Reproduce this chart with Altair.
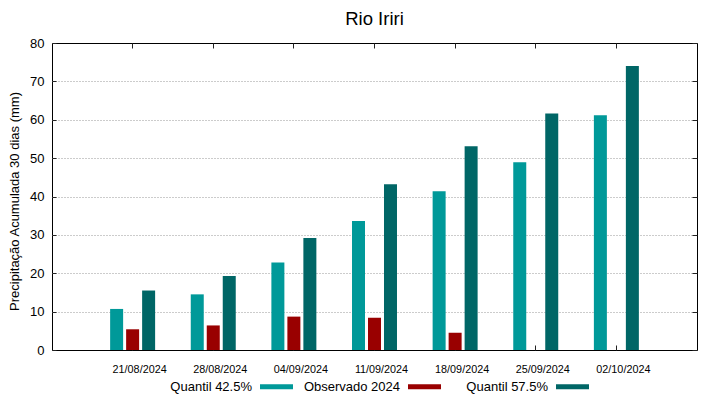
import altair as alt
import pandas as pd

dates = ["21/08/2024", "28/08/2024", "04/09/2024", "11/09/2024",
         "18/09/2024", "25/09/2024", "02/10/2024"]
q425 = [10.7, 14.5, 22.8, 33.6, 41.4, 48.9, 61.2]
obs = [5.4, 6.4, 8.7, 8.4, 4.5, None, None]
q575 = [15.5, 19.3, 29.2, 43.2, 53.1, 61.6, 74.0]
series = ["Quantil 42.5%", "Observado 2024", "Quantil 57.5%"]
colors = ["#009999", "#990000", "#006666"]
y_ticks = [0, 10, 20, 30, 40, 50, 60, 70, 80]

rows = []
for name, vals in zip(series, [q425, obs, q575]):
    for d, v in zip(dates, vals):
        if v is not None:
            rows.append({"data": d, "serie": name, "valor": v})
df = pd.DataFrame(rows)

W, H = 645, 307
FONT = "Liberation Sans"
TICK = "#222222"

x_scale = alt.Scale(paddingInner=0.442, paddingOuter=0.721)
xo_scale = alt.Scale(paddingInner=0.1875, paddingOuter=0)
y_scale = alt.Scale(domain=[0, 80], nice=False, zero=True)

base = alt.Chart(df)

bars = base.mark_bar().encode(
    x=alt.X("data:N", sort=dates, scale=x_scale,
            axis=alt.Axis(orient="bottom", title=None, labelAngle=0, ticks=False,
                          domain=False, labelFontSize=10.8, labelColor="#000",
                          labelPadding=13, labelOffset=7, grid=False)),
    xOffset=alt.XOffset("serie:N", sort=series, scale=xo_scale),
    y=alt.Y("valor:Q", scale=y_scale,
            axis=alt.Axis(orient="left", values=y_ticks,
                          title="Precipitação Acumulada 30 dias (mm)",
                          titleFontSize=13, titleFontWeight="normal", titleColor="#000",
                          titleX=-34, titleY=158, titleAngle=270,
                          titleBaseline="alphabetic", titleAlign="center",
                          labelFontSize=13, labelColor="#000", labelPadding=12,
                          ticks=True, tickSize={"expr": "-4"}, tickColor=TICK,
                          domain=False, grid=True,
                          gridColor="#999999", gridDash=[1, 2], gridWidth=1,
                          gridOpacity={"condition": {"test": "datum.value == 0 || datum.value == 80", "value": 0}, "value": 1})),
    color=alt.Color("serie:N", sort=series,
                    scale=alt.Scale(domain=series, range=colors),
                    legend=alt.Legend(orient="none", legendX=208, legendY=327,
                                      direction="horizontal", columns=3, title=None,
                                      symbolType="M-1,-0.15L1,-0.15L1,0.15L-1,0.15Z",
                                      symbolSize=1089, symbolStrokeWidth=0,
                                      symbolOpacity=1,
                                      labelAlign="right", labelOffset={"expr": "-41"},
                                      labelFontSize=13, labelColor="#000",
                                      gridAlign="all", columnPadding=10)),
)

ticks_a = base.mark_bar(opacity=0).encode(
    x=alt.X("data:N", sort=dates, scale=x_scale,
            axis=alt.Axis(orient="bottom", offset=-H, labels=False, domain=False,
                          ticks=True, tickSize=5, tickColor=TICK, grid=False,
                          title=None, bandPosition=0.5, zindex=0)),
    xOffset=alt.XOffset("serie:N", sort=series, scale=xo_scale),
    y=alt.Y("valor:Q", scale=y_scale,
            axis=alt.Axis(orient="left", offset=-W, values=y_ticks, labels=False,
                          domain=False, ticks=True, tickSize=5, tickColor=TICK,
                          grid=False, title=None, zindex=0)),
)

ticks_b = base.mark_bar(opacity=0).encode(
    x=alt.X("data:N", sort=dates, scale=x_scale,
            axis=alt.Axis(orient="top", offset=-H, labels=False, domain=False,
                          ticks=True, tickSize=5, tickColor=TICK, grid=False,
                          title=None, bandPosition=0.5, zindex=0)),
    xOffset=alt.XOffset("serie:N", sort=series, scale=xo_scale),
    y=alt.Y("valor:Q", scale=y_scale, axis=None),
)

chart = alt.layer(ticks_a, ticks_b, bars).resolve_axis(
    x="independent", y="independent"
).properties(
    width=W, height=H,
    title=alt.TitleParams("Rio Iriri", fontSize=18.5, fontWeight="normal",
                          color="#000", anchor="middle", offset=9, font=FONT,
                          frame="group"),
    autosize=alt.AutoSizeParams(type="none"),
    padding={"left": 44, "top": 35, "right": 10, "bottom": 44},
).configure(
    font=FONT,
).configure_view(
    stroke="#000", strokeWidth=1,
)

chart.save("out.html", embed_options={"renderer": "svg", "actions": False})
